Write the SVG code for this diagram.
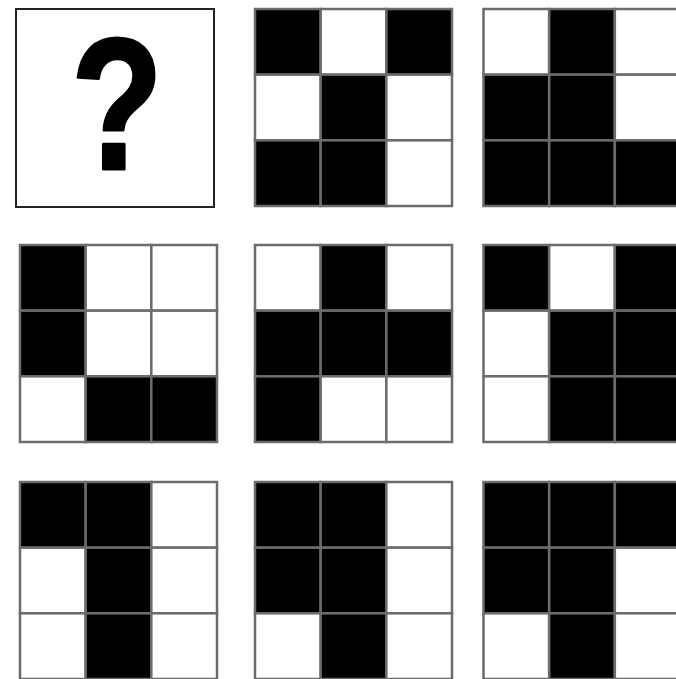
<svg xmlns="http://www.w3.org/2000/svg" width="676" height="679" viewBox="0 0 676 679">
<style>
.b{fill:#000;stroke:#6c6c6c;stroke-width:2.5}
.w{fill:#fff;stroke:#6c6c6c;stroke-width:2.5}
.q{font-family:"Liberation Sans",Arial,sans-serif;font-weight:bold;font-size:188px;fill:#000;stroke:#000;stroke-width:3;stroke-linejoin:round}
</style>
<rect width="676" height="679" fill="#fff"/>
<g id="panel-q">
<rect x="16" y="9" width="198" height="198" fill="#fff" stroke="#222" stroke-width="2"/>
<text class="q" text-anchor="middle" transform="translate(117,168.5) scale(0.8,1)">?</text>
</g>
<g id="p12" transform="translate(255,9)">
<rect class="b" x="0" y="0" width="65.67" height="65.67"/><rect class="w" x="65.67" y="0" width="65.67" height="65.67"/><rect class="b" x="131.33" y="0" width="65.67" height="65.67"/>
<rect class="w" x="0" y="65.67" width="65.67" height="65.67"/><rect class="b" x="65.67" y="65.67" width="65.67" height="65.67"/><rect class="w" x="131.33" y="65.67" width="65.67" height="65.67"/>
<rect class="b" x="0" y="131.33" width="65.67" height="65.67"/><rect class="b" x="65.67" y="131.33" width="65.67" height="65.67"/><rect class="w" x="131.33" y="131.33" width="65.67" height="65.67"/>
</g>
<g id="p13" transform="translate(483.5,9)">
<rect class="w" x="0" y="0" width="65.67" height="65.67"/><rect class="b" x="65.67" y="0" width="65.67" height="65.67"/><rect class="w" x="131.33" y="0" width="65.67" height="65.67"/>
<rect class="b" x="0" y="65.67" width="65.67" height="65.67"/><rect class="b" x="65.67" y="65.67" width="65.67" height="65.67"/><rect class="w" x="131.33" y="65.67" width="65.67" height="65.67"/>
<rect class="b" x="0" y="131.33" width="65.67" height="65.67"/><rect class="b" x="65.67" y="131.33" width="65.67" height="65.67"/><rect class="b" x="131.33" y="131.33" width="65.67" height="65.67"/>
</g>
<g id="p21" transform="translate(20,245)">
<rect class="b" x="0" y="0" width="65.67" height="65.67"/><rect class="w" x="65.67" y="0" width="65.67" height="65.67"/><rect class="w" x="131.33" y="0" width="65.67" height="65.67"/>
<rect class="b" x="0" y="65.67" width="65.67" height="65.67"/><rect class="w" x="65.67" y="65.67" width="65.67" height="65.67"/><rect class="w" x="131.33" y="65.67" width="65.67" height="65.67"/>
<rect class="w" x="0" y="131.33" width="65.67" height="65.67"/><rect class="b" x="65.67" y="131.33" width="65.67" height="65.67"/><rect class="b" x="131.33" y="131.33" width="65.67" height="65.67"/>
</g>
<g id="p22" transform="translate(255,245)">
<rect class="w" x="0" y="0" width="65.67" height="65.67"/><rect class="b" x="65.67" y="0" width="65.67" height="65.67"/><rect class="w" x="131.33" y="0" width="65.67" height="65.67"/>
<rect class="b" x="0" y="65.67" width="65.67" height="65.67"/><rect class="b" x="65.67" y="65.67" width="65.67" height="65.67"/><rect class="b" x="131.33" y="65.67" width="65.67" height="65.67"/>
<rect class="b" x="0" y="131.33" width="65.67" height="65.67"/><rect class="w" x="65.67" y="131.33" width="65.67" height="65.67"/><rect class="w" x="131.33" y="131.33" width="65.67" height="65.67"/>
</g>
<g id="p23" transform="translate(483.5,245)">
<rect class="b" x="0" y="0" width="65.67" height="65.67"/><rect class="w" x="65.67" y="0" width="65.67" height="65.67"/><rect class="b" x="131.33" y="0" width="65.67" height="65.67"/>
<rect class="w" x="0" y="65.67" width="65.67" height="65.67"/><rect class="b" x="65.67" y="65.67" width="65.67" height="65.67"/><rect class="b" x="131.33" y="65.67" width="65.67" height="65.67"/>
<rect class="w" x="0" y="131.33" width="65.67" height="65.67"/><rect class="b" x="65.67" y="131.33" width="65.67" height="65.67"/><rect class="b" x="131.33" y="131.33" width="65.67" height="65.67"/>
</g>
<g id="p31" transform="translate(20,482)">
<rect class="b" x="0" y="0" width="65.67" height="65.67"/><rect class="b" x="65.67" y="0" width="65.67" height="65.67"/><rect class="w" x="131.33" y="0" width="65.67" height="65.67"/>
<rect class="w" x="0" y="65.67" width="65.67" height="65.67"/><rect class="b" x="65.67" y="65.67" width="65.67" height="65.67"/><rect class="w" x="131.33" y="65.67" width="65.67" height="65.67"/>
<rect class="w" x="0" y="131.33" width="65.67" height="65.67"/><rect class="b" x="65.67" y="131.33" width="65.67" height="65.67"/><rect class="w" x="131.33" y="131.33" width="65.67" height="65.67"/>
</g>
<g id="p32" transform="translate(255,482)">
<rect class="b" x="0" y="0" width="65.67" height="65.67"/><rect class="b" x="65.67" y="0" width="65.67" height="65.67"/><rect class="w" x="131.33" y="0" width="65.67" height="65.67"/>
<rect class="b" x="0" y="65.67" width="65.67" height="65.67"/><rect class="b" x="65.67" y="65.67" width="65.67" height="65.67"/><rect class="w" x="131.33" y="65.67" width="65.67" height="65.67"/>
<rect class="w" x="0" y="131.33" width="65.67" height="65.67"/><rect class="b" x="65.67" y="131.33" width="65.67" height="65.67"/><rect class="w" x="131.33" y="131.33" width="65.67" height="65.67"/>
</g>
<g id="p33" transform="translate(483.5,482)">
<rect class="b" x="0" y="0" width="65.67" height="65.67"/><rect class="b" x="65.67" y="0" width="65.67" height="65.67"/><rect class="b" x="131.33" y="0" width="65.67" height="65.67"/>
<rect class="b" x="0" y="65.67" width="65.67" height="65.67"/><rect class="b" x="65.67" y="65.67" width="65.67" height="65.67"/><rect class="w" x="131.33" y="65.67" width="65.67" height="65.67"/>
<rect class="w" x="0" y="131.33" width="65.67" height="65.67"/><rect class="b" x="65.67" y="131.33" width="65.67" height="65.67"/><rect class="w" x="131.33" y="131.33" width="65.67" height="65.67"/>
</g>
<g id="connectors"></g>
</svg>
